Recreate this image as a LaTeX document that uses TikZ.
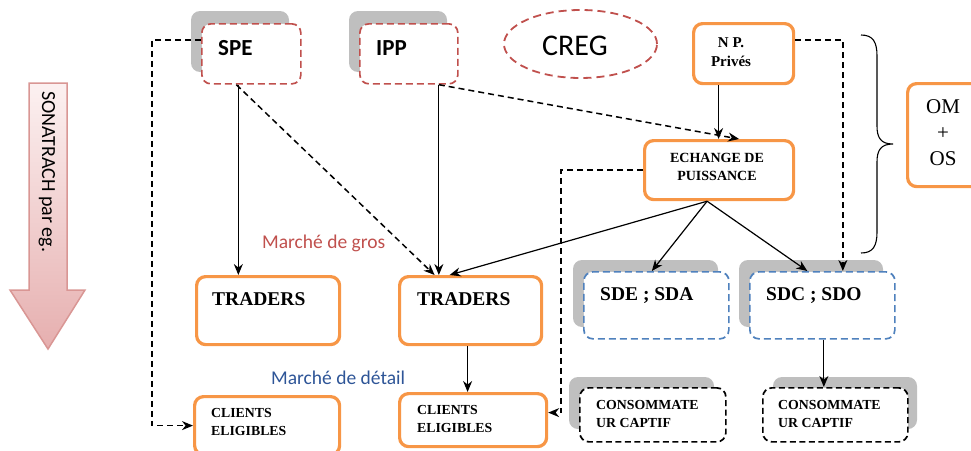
\documentclass[tikz,border=0pt]{standalone}
\usepackage{fontspec}
\setmainfont{Liberation Serif}
\newfontfamily\carl{Carlito}
\usetikzlibrary{arrows.meta,calc,shapes.geometric}
\definecolor{orng}{HTML}{F79646}
\definecolor{redd}{HTML}{C0504D}
\definecolor{bluu}{HTML}{4F81BD}
\definecolor{shd}{HTML}{BFBFBF}
\definecolor{detail}{HTML}{2E5597}
\definecolor{arrowedge}{HTML}{D99694}
\definecolor{arrowtop}{HTML}{FCF1F1}
\definecolor{arrowbot}{HTML}{E6AFAF}
\tikzset{
  base/.style={anchor=north west, fill=white, rounded corners=9pt, inner sep=0pt},
  obox/.style={base, draw=orng, line width=3.2pt},
  rbox/.style={base, draw=redd, line width=1.7pt, dash pattern=on 7pt off 4pt},
  bbox/.style={base, draw=bluu, line width=1.7pt, dash pattern=on 7pt off 4pt},
  kbox/.style={base, draw=black, line width=1.7pt, dash pattern=on 6pt off 3.5pt},
  shadowbox/.style={fill=shd, rounded corners=9pt},
  conn/.style={line width=1.2pt, -{Stealth[length=11pt,width=9pt]}},
  dconn/.style={conn, line width=1.5pt, dash pattern=on 6pt off 4pt},
  sanslabel/.style={font=\carl\bfseries\fontsize{23}{24}\selectfont, anchor=base west, inner sep=0pt},
  bigtxt/.style={font=\bfseries\fontsize{19.5}{22}\selectfont, anchor=base west, inner sep=0pt},
  smalltxt/.style={font=\bfseries\fontsize{13.8}{18.5}\selectfont, anchor=north west, inner sep=0pt, align=left},
}
\begin{document}
\begin{tikzpicture}[x=1pt,y=1pt]
\useasboundingbox (0,0) rectangle (971,-450);

% SONATRACH arrow
\shade[top color=arrowtop, bottom color=arrowbot]
  (29,-83) -- (67,-83) -- (67,-290) -- (85,-290) -- (48,-349) -- (10,-290) -- (29,-290) -- cycle;
\draw[arrowedge, line width=1.5pt, line join=miter]
  (29,-83) -- (67,-83) -- (67,-290) -- (85,-290) -- (48,-349) -- (10,-290) -- (29,-290) -- cycle;
\node[rotate=-90, anchor=west, inner sep=0pt, font=\carl\fontsize{20}{22}\selectfont] (son) at (47,-91) {SONATRACH par eg.};

% shadows
\fill[shadowbox] (191,-11) rectangle (289,-72);
\fill[shadowbox] (349,-11) rectangle (447,-72);
\fill[shadowbox] (573,-260) rectangle (718,-327);
\fill[shadowbox] (739,-260) rectangle (883,-327);
\fill[shadowbox] (569,-377) rectangle (714,-429);
\fill[shadowbox] (773,-377) rectangle (917,-429);

% top row
\node[rbox, minimum width=99pt, minimum height=60pt] (spe) at (201,-23) {};
\node[sanslabel] (tspe) at (218,-55) {SPE};
\node[rbox, minimum width=98pt, minimum height=60pt] (ipp) at (359,-23) {};
\node[sanslabel] (tipp) at (376,-55) {IPP};
\node[draw=redd, line width=1.8pt, dash pattern=on 8pt off 5pt, ellipse, minimum width=153pt, minimum height=68pt, inner sep=0pt] (creg) at (580.5,-44) {};
\node[font=\carl\fontsize{30}{32}\selectfont, anchor=base west, inner sep=0pt] (tcreg) at (542,-55) {CREG};
\node[obox, minimum width=100pt, minimum height=60pt] (np) at (692,-22) {};
\node[font=\bfseries\fontsize{15}{19}\selectfont, align=center, inner sep=0pt, anchor=north] (tnp) at (731,-37) {N P.\\Privés};

\node[obox, minimum width=149pt, minimum height=59pt] (ech) at (643,-139) {};
\node[font=\bfseries\fontsize{14}{18}\selectfont, align=center, inner sep=0pt, anchor=north] (tech) at (717,-153) {ECHANGE DE\\PUISSANCE};

\node[obox, minimum width=80pt, minimum height=103pt] (om) at (906,-82) {};
\node[font=\fontsize{21}{26}\selectfont, align=center, inner sep=0pt, anchor=north] (tom) at (943,-99) {OM\\+\\OS};

% brace
\draw[line width=1.1pt] (861,-35) .. controls (873,-35) and (877,-42) .. (877,-56) -- (877,-126)
  .. controls (877,-138) and (881,-144) .. (893,-144)
  .. controls (881,-144) and (877,-150) .. (877,-162) -- (877,-232)
  .. controls (877,-246) and (873,-253) .. (861,-253);

% middle row
\node[obox, minimum width=143pt, minimum height=68pt] (tr1) at (195,-275) {};
\node[bigtxt] (ttr1) at (212,-305) {TRADERS};
\node[obox, minimum width=142pt, minimum height=68pt] (tr2) at (398,-275) {};
\node[bigtxt] (ttr2) at (417,-305) {TRADERS};
\node[bbox, minimum width=145pt, minimum height=67pt] (sde) at (583,-271) {};
\node[bigtxt] (tsde) at (600,-300) {SDE ; SDA};
\node[bbox, minimum width=145pt, minimum height=67pt] (sdc) at (749,-271) {};
\node[bigtxt] (tsdc) at (766,-300) {SDC ; SDO};

% labels
\node[font=\carl\fontsize{19.5}{21}\selectfont, text=redd, anchor=base west, inner sep=0pt] (gros) at (262,-248) {Marché de gros};
\node[font=\carl\fontsize{19.5}{21}\selectfont, text=detail, anchor=base west, inner sep=0pt] (det) at (271,-384) {Marché de détail};

% bottom row
\node[obox, minimum width=145pt, minimum height=58pt] (cl1) at (193,-395) {};
\node[smalltxt] (tcl1) at (211,-408) {CLIENTS\\ELIGIBLES};
\node[obox, minimum width=147pt, minimum height=53pt] (cl2) at (398,-392) {};
\node[smalltxt] (tcl2) at (417,-405) {CLIENTS\\ELIGIBLES};
\node[kbox, minimum width=146pt, minimum height=54pt] (co1) at (579,-387) {};
\node[smalltxt] (tco1) at (596,-400) {CONSOMMATE\\UR CAPTIF};
\node[kbox, minimum width=145pt, minimum height=54pt] (co2) at (762,-387) {};
\node[smalltxt] (tco2) at (778,-400) {CONSOMMATE\\UR CAPTIF};

% connectors
\draw[dconn] ([yshift=14pt]spe.west) -- ++(-49,0) |- (cl1.west);
\draw[conn] ([xshift=-13pt]spe.south) -- ([xshift=-13pt]spe.south |- tr1.north);
\draw[dconn] ([xshift=-15pt]spe.south) -- ([xshift=-36pt]tr2.north);
\draw[conn] ([xshift=30pt]ipp.south) -- ([xshift=30pt]ipp.south |- tr2.north);
\draw[dconn] ([xshift=30pt]ipp.south) -- ([xshift=20pt]ech.north);
\draw[conn] ([xshift=-25pt]np.south) -- ([xshift=-25pt]np.south |- ech.north);
\draw[dconn] ([yshift=13.5pt]np.east) -| ([xshift=20.5pt]sdc.north);
\coordinate (eb) at ([xshift=-12pt]ech.south);
\draw[conn] (eb) -- ([xshift=-21pt]tr2.north);
\draw[conn] (eb) -- ([xshift=-4.5pt]sde.north);
\draw[conn] (eb) -- ([xshift=-15pt]sdc.north);
\draw[dconn] (ech.west) -- ++(-82,0) |- ([yshift=7.5pt]cl2.east);
\draw[conn] ([xshift=-3pt]tr2.south) -- ([xshift=-3pt]tr2.south |- cl2.north);
\draw[conn] ([xshift=1.5pt]sdc.south) -- ([xshift=1.5pt]sdc.south |- co2.north);
\end{tikzpicture}
\end{document}
